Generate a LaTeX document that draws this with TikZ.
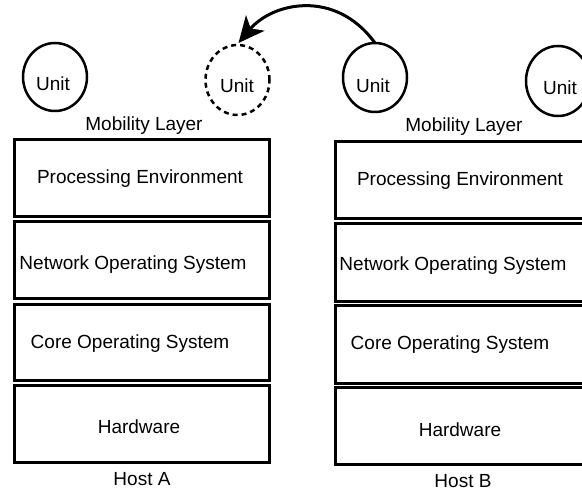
\documentclass[tikz,border=0pt]{standalone}
\usepackage{fontspec}
\setmainfont{Liberation Sans}
\usetikzlibrary{arrows.meta,shapes.geometric}
\begin{document}
\begin{tikzpicture}[x=1pt,y=-1pt,
  font=\fontsize{19}{22}\selectfont,
  layerbox/.style={draw, line width=3pt, rectangle, inner sep=0pt, outer sep=0pt, minimum width=254.5pt},
  unitnode/.style={draw, ellipse, line width=2.5pt, inner sep=0pt, outer sep=0pt, minimum width=64pt},
  lbl/.style={anchor=base, inner sep=0pt}]
\useasboundingbox (0,0) rectangle (582,494);
\clip (0,0) rectangle (582,494);
% Host A
\node[layerbox, minimum height=77pt] (pa) at (141.75,178.5) {};
\node[layerbox, minimum height=77pt] (na) at (141.75,260.5) {};
\node[layerbox, minimum height=76pt] (ca) at (141.75,343) {};
\node[layerbox, minimum height=77pt] (ha) at (141.75,424.5) {};
\node[lbl] (tpa) at (140,184) {Processing Environment};
\node[lbl] (tna) at (133,270) {Network Operating System};
\node[lbl] (tca) at (130,349) {Core Operating System};
\node[lbl] (tha) at (139,434) {Hardware};
\node[lbl] (hosta) at (142,486) {Host A};
\node[lbl] (mla) at (144,131) {Mobility Layer};
% Host B
\node[layerbox, minimum height=77pt] (pb) at (462.25,180.2) {};
\node[layerbox, minimum height=77.6pt] (nb) at (462.25,262.5) {};
\node[layerbox, minimum height=78pt] (cb) at (462.25,344.7) {};
\node[layerbox, minimum height=77pt] (hb) at (462.25,425.8) {};
\node[lbl] (tpb) at (460,186) {Processing Environment};
\node[lbl] (tnb) at (453,271) {Network Operating System};
\node[lbl] (tcb) at (450,350) {Core Operating System};
\node[lbl] (thb) at (460,437) {Hardware};
\node[lbl] (hostb) at (463,488) {Host B};
\node[lbl] (mlb) at (464,132) {Mobility Layer};
% Units
\node[unitnode, minimum height=68pt] (u1) at (55,77) {};
\node[unitnode, minimum height=70pt, dashed, dash pattern=on 5pt off 4pt] (u2) at (237.5,80) {};
\node[unitnode, minimum height=69pt] (u3) at (375,77.5) {};
\node[unitnode, minimum height=70pt] (u4) at (558,81) {};
\node[lbl] (tu1) at (53,91) {Unit};
\node[lbl] (tu2) at (237,93) {Unit};
\node[lbl] (tu3) at (373,93) {Unit};
\node[lbl] (tu4) at (560,95) {Unit};
% migration arrow
\draw[line width=3pt, -{Stealth[length=26pt,width=24pt,inset=7pt]}]
  (u3.north) .. controls (335,-12) and (272,3) .. ([xshift=1pt,yshift=2pt]u2.north);
\end{tikzpicture}
\end{document}
